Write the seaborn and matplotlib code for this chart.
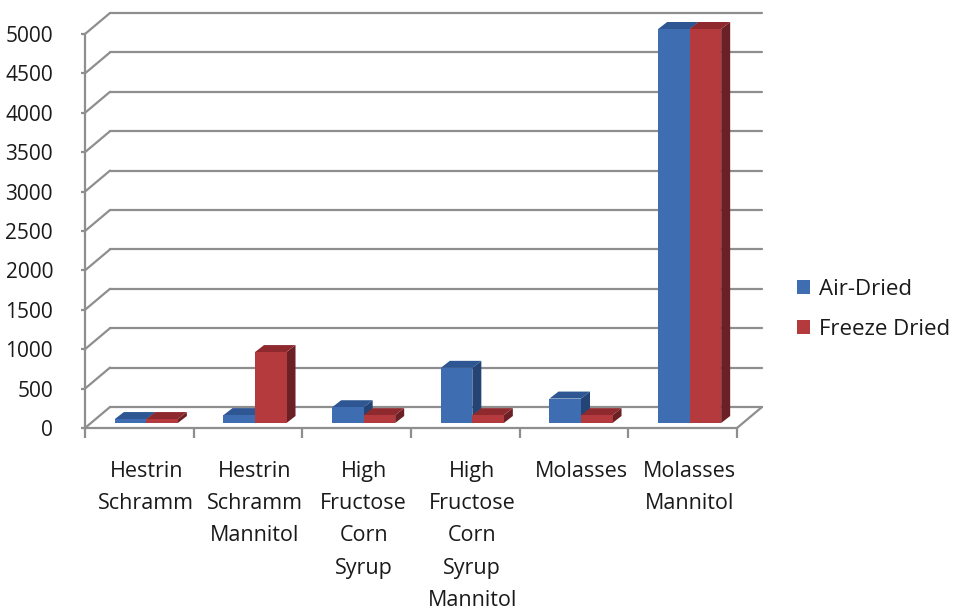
import numpy as np
import pandas as pd
import seaborn as sns
import matplotlib
matplotlib.use("Agg")
import matplotlib.pyplot as plt
from matplotlib.transforms import ScaledTranslation, IdentityTransform
from matplotlib.patches import Polygon, Patch
from matplotlib.lines import Line2D

# ---- data ----
categories = ["Hestrin\nSchramm", "Hestrin\nSchramm\nMannitol",
              "High\nFructose\nCorn\nSyrup", "High\nFructose\nCorn\nSyrup\nMannitol",
              "Molasses", "Molasses\nMannitol"]
air_dried = [50, 100, 200, 700, 310, 5000]
freeze_dried = [50, 900, 100, 100, 100, 5000]
series = ["Air-Dried", "Freeze Dried"]
yticks = list(range(0, 5001, 500))

df = pd.DataFrame({
    "category": categories * 2,
    "value": air_dried + freeze_dried,
    "series": [series[0]] * len(categories) + [series[1]] * len(categories),
})

sns.set_theme(style="white")
plt.rcParams["font.family"] = ["Open Sans", "DejaVu Sans"]

W, H = 954, 615
DPI = 100
fig = plt.figure(figsize=(W / DPI, H / DPI), dpi=DPI)
ax = fig.add_axes([85 / W, (H - 428) / H, (737 - 85) / W, (428 - 34) / H])

front_col = {series[0]: "#3F6DB1", series[1]: "#B43A3D"}
top_col = {series[0]: "#2D5692", series[1]: "#8E2A2E"}
side_col = {series[0]: "#234474", series[1]: "#6A2024"}
grid_col = "#8E8E8E"
text_col = "#1A1A1A"

sns.barplot(data=df, x="category", y="value", hue="series", palette=front_col,
            width=0.58, saturation=1, ax=ax, legend=False,
            edgecolor="none", linewidth=0)
ax.set_xlim(-0.5, len(categories) - 0.5)
ax.set_ylim(0, 5000)
ax.set_autoscale_on(False)
ax.patch.set_visible(False)
ax.set_xlabel("")
ax.set_ylabel("")

# spines
for s in ["top", "right"]:
    ax.spines[s].set_visible(False)
for s in ["left", "bottom"]:
    ax.spines[s].set_color(grid_col)
    ax.spines[s].set_linewidth(1.6)
    ax.spines[s].set_zorder(2)

# y ticks
ax.set_yticks(yticks)
ax.set_yticklabels([str(v) for v in yticks])
ax.tick_params(axis="y", which="major", direction="out", length=3, width=1.6,
               color=grid_col, labelsize=15, labelcolor=text_col, pad=20, left=True)

# x ticks: boundaries as minor ticks, labels drawn as text
ax.set_xticks(np.arange(len(categories)))
ax.set_xticklabels([])
ax.tick_params(axis="x", which="major", length=0)
ax.set_xticks(np.arange(-0.5, len(categories)), minor=True)
ax.tick_params(axis="x", which="minor", direction="out", length=7, width=1.6,
               color=grid_col, bottom=True)

lbl_off = ScaledTranslation(7 / DPI, -33 / DPI, fig.dpi_scale_trans)
for i, c in enumerate(categories):
    ax.text(i, 0, c, transform=ax.transData + lbl_off, ha="center", va="top",
            multialignment="center", fontsize=15.5, color=text_col,
            linespacing=1.7, clip_on=False)

# ---- 3D-like walls ----
wall_dx, wall_dy = 25, 21
wall_off = ScaledTranslation(wall_dx / DPI, wall_dy / DPI, fig.dpi_scale_trans)
xmin, xmax = ax.get_xlim()
for v in yticks:
    ax.plot([xmin, xmax], [v, v], transform=ax.transData + wall_off,
            color=grid_col, lw=1.6, clip_on=False, zorder=1)
    fx, fy = ax.transData.transform((xmin, v))
    ax.add_line(Line2D([fx, fx + wall_dx], [fy, fy + wall_dy],
                       transform=IdentityTransform(), color=grid_col, lw=1.6,
                       clip_on=False, zorder=1))
fx, fy = ax.transData.transform((xmax, 0))
ax.add_line(Line2D([fx, fx + wall_dx], [fy, fy + wall_dy],
                   transform=IdentityTransform(), color=grid_col, lw=1.6,
                   clip_on=False, zorder=1))

# ---- 3D-like bars ----
bdx, bdy = 7, 5      # bar front plane offset
ddx, ddy = 9, 7      # bar depth
bar_off = ScaledTranslation(bdx / DPI, bdy / DPI, fig.dpi_scale_trans)
for ci, (cont, name) in enumerate(zip(ax.containers, series)):
    base_z = 3 + ci * 0.5
    for bar in cont:
        x0, w, h = bar.get_x(), bar.get_width(), bar.get_height()
        (px0, py0), (px1, py1) = ax.transData.transform([(x0, 0), (x0 + w, h)])
        px0 += bdx; px1 += bdx; py0 += bdy; py1 += bdy
        side = Polygon([(px1, py0), (px1 + ddx, py0 + ddy), (px1 + ddx, py1 + ddy), (px1, py1)],
                       closed=True, transform=IdentityTransform(), facecolor=side_col[name],
                       edgecolor="none", clip_on=False, zorder=base_z)
        top = Polygon([(px0, py1), (px1, py1), (px1 + ddx, py1 + ddy), (px0 + ddx, py1 + ddy)],
                      closed=True, transform=IdentityTransform(), facecolor=top_col[name],
                      edgecolor="none", clip_on=False, zorder=base_z + 0.1)
        ax.add_artist(side)
        ax.add_artist(top)
        bar.set_transform(ax.transData + bar_off)
        bar.set_clip_on(False)
        bar.set_zorder(base_z + 0.2)

# ---- legend ----
handles = [Patch(facecolor=front_col[s], edgecolor="none") for s in series]
fig.legend(handles, series, loc="center left", bbox_to_anchor=(797 / W, 1 - 309.5 / H),
           frameon=False, fontsize=16, handlelength=0.6, handleheight=0.6,
           handletextpad=0.4, labelspacing=0.85, borderpad=0, borderaxespad=0,
           labelcolor=text_col)

fig.savefig("out.png", dpi=DPI)
